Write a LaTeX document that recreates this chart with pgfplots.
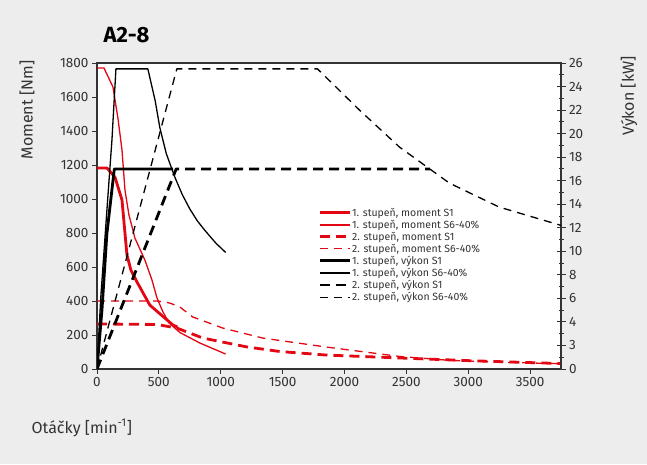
\documentclass[border=0pt]{standalone}
\usepackage{fontspec}
\setmainfont{Fira Sans}
\usepackage{pgfplots}
\pgfplotsset{compat=1.18}
\definecolor{bg}{HTML}{EDEDED}
\definecolor{cred}{HTML}{E30613}
\definecolor{axgray}{HTML}{333333}
\tikzset{
  thk/.style={line width=2.8pt, line join=round},
  thn/.style={line width=1.3pt, line join=round},
  dthk/.style={thk, dash pattern=on 10pt off 6pt},
  dthn/.style={thn, dash pattern=on 8pt off 6pt},
}
\pgfplotsset{
  base/.style={
    at={(97pt,95pt)}, anchor=south west, scale only axis,
    width=464pt, height=306pt,
    xmin=0, xmax=3750,
    axis line style={axgray, line width=1.1pt},
    tick style={axgray, line width=0.9pt},
    ticklabel style={font=\fontsize{13.5}{15}\selectfont, text=axgray},
    /pgf/number format/assume math mode=true,
    /pgf/number format/1000 sep={},
  },
}
\begin{document}
\begin{tikzpicture}[x=1pt,y=1pt]
\fill[bg] (0,0) rectangle (647,464);
\node[anchor=base west, font=\bfseries\fontsize{22}{24}\selectfont] at (100,421) {A2-8};
\node[rotate=90, font=\fontsize{16}{18}\selectfont, text=axgray] at (27,354) {Moment [Nm]};
\node[rotate=90, font=\fontsize{16}{18}\selectfont, text=axgray] at (629,368) {Výkon [kW]};
\node[anchor=west, font=\fontsize{16}{18}\selectfont, text=axgray] at (28,36) {Otáčky [min\textsuperscript{-1}]};

% moment axis (left)
\begin{axis}[base,
  ymin=0, ymax=1800,
  xtick={0,500,...,3500}, ytick={0,200,...,1800},
  xtick pos=left, ytick pos=left, tick align=outside,
  major tick length=5pt,
  axis background/.style={fill=white},
]
% 1. stupen, moment S1
\addplot[cred, thk] coordinates {(0,1182) (81,1182) (145,1129) (202,994) (242,671) (274,582) (323,512) (427,376) (613,259) (650,247)};
% 1. stupen, moment S6-40%
\addplot[cred, thn] coordinates {(0,1771) (56,1771) (129,1659) (169,1476) (202,1288) (226,1053) (258,906) (290,818) (306,771) (387,641) (444,524) (484,420) (530,340) (581,272) (669,215) (831,153) (1040,88)};
% 2. stupen, moment S1
\addplot[cred, dthk] coordinates {(0,265) (484,262) (645,241) (855,182) (1210,130) (1476,103) (1855,82) (2444,65) (3008,49) (3750,32)};
% 2. stupen, moment S6-40%
\addplot[cred, dthn] coordinates {(0,400) (480,400) (550,395) (600,385) (669,365) (774,306) (1016,241) (1339,182) (1855,129) (2444,74) (2847,51) (3250,40) (3750,31)};
\end{axis}

% power axis (right)
\begin{axis}[base,
  ymin=0, ymax=26,
  axis x line=none, axis y line*=right,
  ytick={0,2,...,26},
  yticklabels={0,3,4,6,8,10,12,14,16,18,20,22,24,26},
  minor ytick={1,3,...,25},
  tick align=center,
  major tick length=9pt, minor tick length=5pt,
  legend style={at={(0.476,0.530)}, anchor=north west, draw=none, fill=none,
    font=\fontsize{10.5}{11}\selectfont, text=axgray, inner sep=0pt,
    nodes={inner sep=1.1pt}},
  legend cell align=left,
  legend image code/.code={\draw[#1] (0pt,0pt) -- (30pt,0pt);},
]
\addlegendimage{color=cred, solid, line width=3pt}
\addlegendentry{1. stupeň, moment S1}
\addlegendimage{color=cred, solid, line width=1.3pt}
\addlegendentry{1. stupeň, moment S6-40\%}
\addlegendimage{color=cred, dthk}
\addlegendentry{2. stupeň, moment S1}
\addlegendimage{color=cred, dthn}
\addlegendentry{2. stupeň, moment S6-40\%}
% 1. stupen, vykon S1
\addplot[black, thk] coordinates {(0,0) (40,5) (80,11.5) (140,17) (615,17)};
\addlegendentry{1. stupeň, výkon S1}
% 1. stupen, vykon S6-40%
\addplot[black, thn] coordinates {(0,0) (30,6) (70,12) (121,19.5) (153,25.5) (411,25.5) (470,22.8) (508,20.5) (560,18.3) (629,16.3) (690,14.8) (750,13.6) (810,12.6) (870,11.8) (960,10.7) (1040,9.9)};
\addlegendentry{1. stupeň, výkon S6-40\%}
% 2. stupen, vykon S1
\addplot[black, dthk] coordinates {(0,0) (640,17) (2690,17)};
\addlegendentry{2. stupeň, výkon S1}
% 2. stupen, vykon S6-40%
\addplot[black, dthn] coordinates {(0,0) (645,25.5) (1782,25.5) (2121,22.0) (2444,18.86) (2847,15.8) (3250,13.76) (3750,12.2)};
\addlegendentry{2. stupeň, výkon S6-40\%}
\end{axis}
\end{tikzpicture}
\end{document}
